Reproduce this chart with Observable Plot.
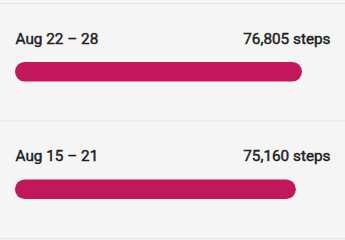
<!DOCTYPE html>
<html>
<head>
<meta charset="utf-8">
<script src="https://cdn.jsdelivr.net/npm/d3@7"></script>
<script src="https://cdn.jsdelivr.net/npm/@observablehq/plot@0.6"></script>
<style>
  html, body { margin: 0; padding: 0; background: #f5f5f5; }
  #chart svg { display: block; }
</style>
</head>
<body>
<div id="chart"></div>
<script>
const weeks = ["Aug 22 – 28", "Aug 15 – 21"];
const steps = [76805, 75160];
const unit = "steps";

const rows = weeks.map((w, i) => ({ i, week: w, steps: steps[i] }));
const fmt = d3.format(",");

const chart = Plot.plot({
  width: 345,
  height: 240,
  margin: 0,
  style: { background: "#f5f5f5", fontFamily: "Roboto, sans-serif" },
  x: { domain: [0, 84300], range: [15, 330], axis: null },
  y: { domain: [0, 2], range: [3, 238], axis: null },
  marks: [
    Plot.ruleY([0, 1, 2], { stroke: "#e4e4e4", strokeWidth: 1.2 }),
    Plot.rect(rows, {
      x1: 0,
      x2: "steps",
      y1: d => d.i + 0.502,
      y2: d => d.i + 0.668,
      fill: "#c2185b",
      rx: 9.7
    }),
    Plot.text(rows, {
      x: 0,
      y: d => d.i + 0.343,
      text: "week",
      textAnchor: "start",
      lineAnchor: "bottom",
      fontSize: 15.3,
      fontWeight: 400,
      fill: "#202020",
      stroke: "#202020",
      strokeWidth: 0.45
    }),
    Plot.text(rows, {
      x: 84300,
      y: d => d.i + 0.343,
      text: d => `${fmt(d.steps)} ${unit}`,
      textAnchor: "end",
      lineAnchor: "bottom",
      fontSize: 15.3,
      fontWeight: 400,
      fill: "#202020",
      stroke: "#202020",
      strokeWidth: 0.45
    })
  ]
});
document.getElementById("chart").append(chart);
</script>
</body>
</html>
